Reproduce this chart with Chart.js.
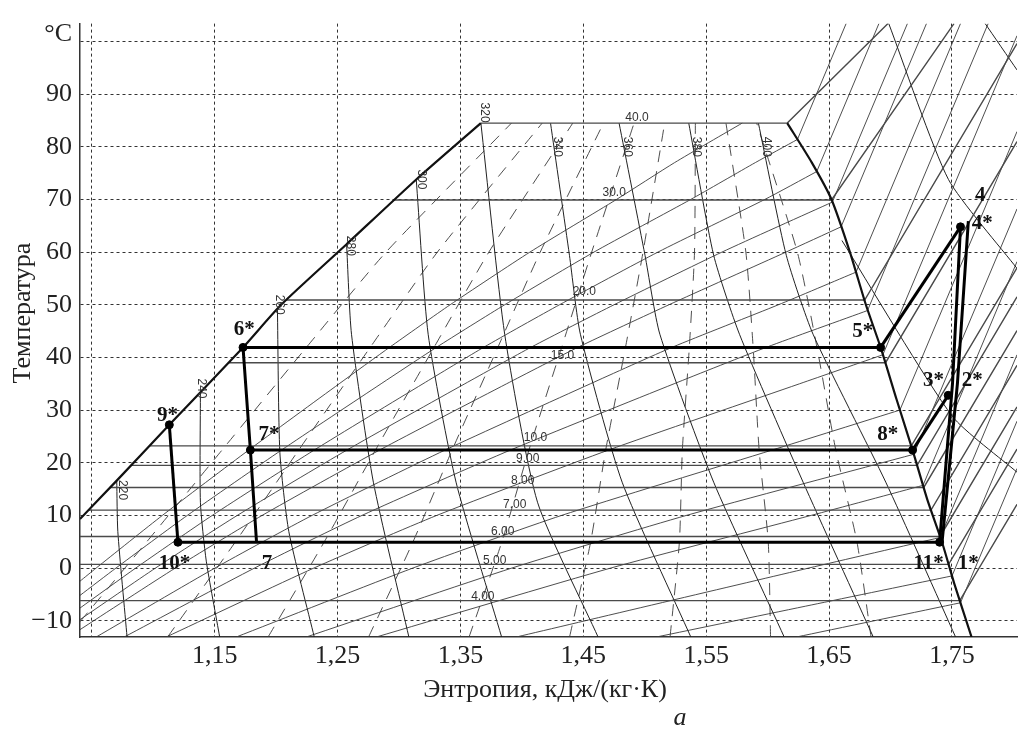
<!DOCTYPE html>
<html><head><meta charset="utf-8">
<script src="https://cdn.jsdelivr.net/npm/chart.js@4.4.1/dist/chart.umd.min.js"></script>
<style>html,body{margin:0;padding:0;background:#fff;overflow:hidden}#wrap{width:1022px;height:729px}</style>
</head><body><div id="wrap"><canvas id="c" width="1022" height="729"></canvas></div>
<script>
// ---------- axes / text ----------
const entropyTicks = [1.05,1.15,1.25,1.35,1.45,1.55,1.65,1.75];
const entropyTickLabels = ['','1,15','1,25','1,35','1,45','1,55','1,65','1,75'];
const tempTicks = [-10,0,10,20,30,40,50,60,70,80,90,100];
const tempTickLabels = ['\u221210','0','10','20','30','40','50','60','70','80','90',''];
const unitLabel = '°C';
const xTitle = 'Энтропия, кДж/(кг·К)';
const yTitle = 'Температура';
const figTag = 'a';

// ---------- saturation dome ----------
const liquidLine = [[1.0403,9.3],[1.0702,16.6],[1.113,27.2],[1.173,41.9],[1.204,50.0],[1.2573,61.5],[1.314,73.8],[1.3666,84.5]];
const vaporLine = [[1.616,84.5],[1.636,77],[1.652,70],[1.667,60],[1.680,50],[1.692,41.9],[1.705,32],[1.718,22.4],[1.730,13],[1.742,4.9],[1.752,-3],[1.766,-13.1]];

// ---------- isobars (bar) ----------
const isobarLabels = ['40.0','30.0','20.0','15.0','10.0','9.00','8.00','7.00','6.00','5.00','4.00'];
const isobarT     = [84.5, 69.9, 50.9, 39.0, 23.2, 19.5, 15.3, 11.0, 6.0, 0.7, -6.2];
const isobarLiqS  = [1.3666,1.2953,1.208,1.161,1.0967,1.0816,1.0645,1.047,1.0403,1.0403,1.0403];
const isobarVapS  = [1.616,1.652,1.679,1.696,1.717,1.7217,1.7271,1.733,1.7404,1.7473,1.7564];
const isobarEndS  = [1.698,1.7517,1.803,1.803,1.803,1.803,1.803,1.803,1.803,1.803,1.803];
const isobarEndT  = [103.4,103.4,99.6,81.0,57.0,51.5,45.1,38.5,30.6,22.6,12.1];
const isobarLabelS = [1.4937,1.4751,1.4508,1.433,1.4111,1.4047,1.4006,1.3941,1.3844,1.3779,1.3682];
const isobarLabelT = [85.6,71.2,52.4,40.3,24.7,20.8,16.5,12.0,6.9,1.3,-5.4];

// ---------- isenthalps (kJ/kg) ----------
const h220 = [[1.0702,16.6],[1.0711,6.9],[1.0786,-13.1]];
const h240 = [[1.1383,33.4],[1.1383,12.5],[1.1431,1.3],[1.1540,-13.1]];
const h260 = [[1.2010,49.2],[1.2030,21.9],[1.2103,6.9],[1.2310,-13.1]];
const h280 = [[1.2573,61.5],[1.2613,44.4],[1.2791,16.3],[1.3080,-13.1]];
const h300 = [[1.3140,73.8],[1.3237,44.4],[1.3464,16.3],[1.3835,-13.1]];
const h320 = [[1.3666,84.5],[1.3860,44.4],[1.4127,12.5],[1.4620,-13.1]];
const h340 = [[1.4233,84.5],[1.4387,59.4],[1.4476,44.4],[1.4816,16.3],[1.5375,-13.1]];
const h360 = [[1.4791,84.5],[1.5002,59.4],[1.5123,44.4],[1.5561,16.3],[1.6135,-13.1]];
const h380 = [[1.5358,84.5],[1.5561,59.4],[1.5771,44.4],[1.6289,16.3],[1.6860,-13.1]];
const h400 = [[1.5925,84.5],[1.6152,59.4],[1.6370,44.4],[1.6962,16.3],[1.7530,-13.1]];
const hVap1 = [[1.6986,103.4],[1.7472,73.8],[1.803,56.9]];
const hVap2 = [[1.7771,103.4],[1.803,94.6]];
const hVap3 = [[1.6605,62.2],[1.7504,28.8],[1.803,18.2]];
const enthalpyLabels = ['220','240','260','280','300','320','340','360','380','400'];
const enthalpyLabelS = [1.0751,1.1391,1.2022,1.2605,1.318,1.3698,1.429,1.4856,1.5423,1.599];
const enthalpyLabelT = [14.8,34.1,50.0,61.2,73.8,86.5,80.0,80.0,80.0,80.0];

// ---------- vapour quality (dashed) ----------
const q1 = [[1.0403,-10.2],[1.0947,5],[1.1559,22.4],[1.2249,42],[1.2894,60],[1.3915,84.5]];
const q2 = [[1.1116,-13.1],[1.1669,5],[1.2183,22.4],[1.2768,42],[1.3312,60],[1.4165,84.5]];
const q3 = [[1.1934,-13.1],[1.2392,5],[1.2808,22.4],[1.3287,42],[1.3731,60],[1.4414,84.5]];
const q4 = [[1.2752,-13.1],[1.3114,5],[1.3432,22.4],[1.3806,42],[1.4149,60],[1.4664,84.5]];
const q5 = [[1.3570,-13.1],[1.3837,5],[1.4057,22.4],[1.4325,42],[1.4568,60],[1.4913,84.5]];
const q6 = [[1.4388,-13.1],[1.4560,5],[1.4682,22.4],[1.4844,42],[1.4986,60],[1.5162,84.5]];
const q7 = [[1.5206,-13.1],[1.5282,5],[1.5306,22.4],[1.5363,42],[1.5405,60],[1.5412,84.5]];
const q8 = [[1.6024,-13.1],[1.6005,5],[1.5931,22.4],[1.5882,42],[1.5823,60],[1.5661,84.5]];
const q9 = [[1.6842,-13.1],[1.6727,5],[1.6555,22.4],[1.6401,42],[1.6242,60],[1.5911,84.5]];

// ---------- isochores (m3/kg): two-phase part, then superheated part ----------
const v004 = [[1.0403,-2.5],[1.0535,0],[1.1074,10],[1.1776,22.4],[1.2513,35],[1.2928,42],[1.3416,50],[1.4065,60],[1.477,70],[1.5243,77],[1.5793,84.5]];
const v005 = [[1.0403,-5.2],[1.0696,0],[1.1277,10],[1.2043,22.4],[1.2854,35],[1.331,42],[1.386,50],[1.4586,60],[1.5374,70],[1.59,77],[1.6243,81.4]];
const v006 = [[1.0403,-7.6],[1.0857,0],[1.148,10],[1.2309,22.4],[1.3195,35],[1.3695,42],[1.4306,50],[1.5107,60],[1.5977,70],[1.640,75.3]];
const v007 = [[1.0403,-9.8],[1.1018,0],[1.1684,10],[1.2575,22.4],[1.3536,35],[1.408,42],[1.475,50],[1.5628,60],[1.6527,69.5]];
const v008 = [[1.0403,-11.7],[1.1179,0],[1.1886,10],[1.2841,22.4],[1.3876,35],[1.4463,42],[1.5197,50],[1.6149,60],[1.6598,64.8]];
const v010 = [[1.0535,-13.1],[1.1502,0],[1.2293,10],[1.3374,22.4],[1.4558,35],[1.5231,42],[1.6088,50],[1.672,56.2]];
const v012 = [[1.0763,-13.1],[1.1824,0],[1.2699,10],[1.3906,22.4],[1.5239,35],[1.5999,42],[1.6813,48.9]];
const v015 = [[1.1105,-13.1],[1.2307,0],[1.3308,10],[1.4704,22.4],[1.6261,35],[1.6938,40.5]];
const v020 = [[1.1675,-13.1],[1.3113,0],[1.4324,10],[1.6036,22.4],[1.7077,30]];
const v025 = [[1.2245,-13.1],[1.3919,0],[1.534,10],[1.719,21.6]];
const v030 = [[1.2815,-13.1],[1.4724,0],[1.6355,10],[1.7265,15.7]];
const v040 = [[1.3955,-13.1],[1.6336,0],[1.7405,5.8]];
const v050 = [[1.5095,-13.1],[1.636,-7],[1.7501,-1.5]];
const v060 = [[1.6235,-13.1],[1.757,-6.6]];
const isochoreEndS = [null,1.6639,1.6906,1.7138,1.7293,1.757,1.7795,1.803,1.803,1.803,1.803,1.803,1.803,1.803];
const isochoreEndT = [null,103.4,103.4,103.4,103.4,103.4,103.4,101.1,82.9,68.2,58.2,40.5,27.9,18.9];

// ---------- refrigeration cycle ----------
const evaporation = [[1.120,4.9],[1.740,4.9]];
const line7s8s   = [[1.179,22.4],[1.718,22.4]];
const line6s5s   = [[1.173,41.9],[1.692,41.9]];
const line6s7s7  = [[1.173,41.9],[1.179,22.4],[1.184,4.9]];
const line9s10s  = [[1.113,27.2],[1.120,4.9]];
const line5s4s   = [[1.692,41.9],[1.757,64.8]];
const line8s3s   = [[1.718,22.4],[1.747,32.8]];
const line11s4s  = [[1.740,4.9],[1.7505,35.0],[1.757,64.8]];
const line1s4    = [[1.742,4.9],[1.7545,35.0],[1.7634,65.9]];
const cycleDots  = [[1.173,41.9],[1.113,27.2],[1.179,22.4],[1.120,4.9],[1.692,41.9],[1.718,22.4],[1.747,32.8],[1.740,4.9],[1.757,64.8]];
const pointLabels = ['6*','9*','7*','10*','7','5*','3*','2*','8*','11*','1*','4','4*'];
const pointLabelS = [1.1739,1.1115,1.1941,1.1172,1.1925,1.6775,1.735,1.7666,1.6978,1.731,1.7634,1.7731,1.7747];
const pointLabelT = [45.3,29.0,25.3,0.9,0.9,44.9,35.6,35.6,25.3,0.9,0.9,70.8,65.4];

// ---------- build datasets ----------
const P = a => a.map(p => ({x:p[0], y:p[1]}));
const datasets = [];
function add(pts, width, color, dash, tension, order){
  datasets.push({data:P(pts), showLine:true, pointRadius:0, borderWidth:width, borderColor:color,
    borderDash:dash||[], tension:tension||0, order:order, fill:false, borderCapStyle:'butt'});
}
[v004,v005,v006,v007,v008,v010,v012,v015,v020,v025,v030,v040,v050,v060].forEach((v,i)=>{
  add(v,0.9,'#3a3a3a',[],0.2,6);
  if (isochoreEndS[i] !== null) add([v[v.length-1],[isochoreEndS[i],isochoreEndT[i]]],0.9,'#3a3a3a',[],0,6);
});
[q1,q2,q3,q4,q5,q6,q7,q8,q9].forEach(q=>add(q,0.9,'#3a3a3a',[12,9],0.2,5));
[h220,h240,h260,h280,h300,h320,h340,h360,h380,h400,hVap1,hVap2,hVap3].forEach(h=>add(h,1,'#222',[],0.2,4));
isobarT.forEach((t,i)=>add([[isobarLiqS[i],t],[isobarVapS[i],t],[isobarEndS[i],isobarEndT[i]]],1.4,'#4a4a4a',[],0,3));
add(liquidLine,2.2,'#111',[],0.2,2);
add(vaporLine,2.2,'#111',[],0.2,2);
[evaporation,line7s8s,line6s5s,line6s7s7,line9s10s,line5s4s,line8s3s,line11s4s,line1s4].forEach(c=>add(c,3,'#000',[],0,1));
datasets.push({data:P(cycleDots), showLine:false, pointRadius:4, pointBackgroundColor:'#000', pointBorderColor:'#000', order:0});

const textPlugin = {
  id:'texts',
  afterDatasetsDraw(chart){
    const {ctx, scales:{x,y}} = chart;
    const a = chart.chartArea;
    ctx.save();
    ctx.beginPath(); ctx.rect(a.left,a.top,a.right-a.left,a.bottom-a.top); ctx.clip();
    ctx.fillStyle = '#333';
    ctx.font = '12px "Liberation Sans", Arial, sans-serif';
    ctx.textAlign='center'; ctx.textBaseline='middle';
    isobarLabels.forEach((t,i)=>ctx.fillText(t, x.getPixelForValue(isobarLabelS[i]), y.getPixelForValue(isobarLabelT[i])));
    enthalpyLabels.forEach((t,i)=>{
      ctx.save();
      ctx.translate(x.getPixelForValue(enthalpyLabelS[i]), y.getPixelForValue(enthalpyLabelT[i]));
      ctx.rotate(Math.PI/2);
      ctx.fillText(t,0,0);
      ctx.restore();
    });
    ctx.restore();
    ctx.save();
    ctx.fillStyle='#111';
    ctx.font = 'bold 21px "Liberation Serif", "Times New Roman", serif';
    ctx.textAlign='center'; ctx.textBaseline='middle';
    pointLabels.forEach((t,i)=>ctx.fillText(t, x.getPixelForValue(pointLabelS[i]), y.getPixelForValue(pointLabelT[i])));
    ctx.restore();
  },
  afterDraw(chart){
    const {ctx} = chart;
    const a = chart.chartArea;
    ctx.save();
    ctx.fillStyle='#222';
    ctx.font = '26px "Liberation Serif", "Times New Roman", serif';
    ctx.textBaseline='middle';
    ctx.textAlign='right';
    ctx.fillText(unitLabel, a.left-8, a.top+11);
    ctx.textAlign='center';
    ctx.fillText(xTitle, 545, 690);
    ctx.save();
    ctx.translate(23, 313);
    ctx.rotate(-Math.PI/2);
    ctx.fillText(yTitle, 0, 0);
    ctx.restore();
    ctx.font = 'italic 26px "Liberation Serif", "Times New Roman", serif';
    ctx.fillText(figTag, 680, 718);
    ctx.restore();
  }
};

new Chart(document.getElementById('c'), {
  type:'scatter',
  data:{datasets},
  options:{
    responsive:false, animation:false, events:[],
    layout:{padding:{top:15,left:0,right:0,bottom:0}},
    plugins:{legend:{display:false}, tooltip:{enabled:false}},
    scales:{
      x:{type:'linear', min:1.0403, max:1.803,
        afterBuildTicks:s=>{s.ticks=entropyTicks.map(v=>({value:v}));},
        afterFit:s=>{s.height=92;},
        ticks:{callback:(v,i)=>entropyTickLabels[i], font:{family:'"Liberation Serif", serif', size:26}, color:'#222', padding:4, maxRotation:0, autoSkip:false},
        grid:{color:'#333', lineWidth:1, drawTicks:false},
        border:{display:true, color:'#333', width:1.5, dash:[3,3]}
      },
      y:{type:'linear', min:-13.1, max:103.4,
        afterBuildTicks:s=>{s.ticks=tempTicks.map(v=>({value:v}));},
        afterFit:s=>{s.width=80;},
        ticks:{callback:(v,i)=>tempTickLabels[i], font:{family:'"Liberation Serif", serif', size:26}, color:'#222', padding:8, autoSkip:false},
        grid:{color:'#333', lineWidth:1, drawTicks:false},
        border:{display:true, color:'#333', width:1.5, dash:[3,3]}
      }
    }
  },
  plugins:[textPlugin]
});
</script></body></html>
